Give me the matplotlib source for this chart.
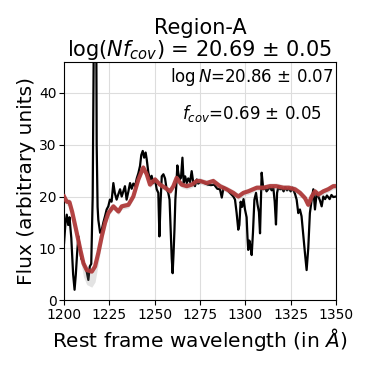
import numpy as np
import matplotlib
matplotlib.use("Agg")
import matplotlib.pyplot as plt

# observed spectrum (rest frame)
wave = [1200, 1200.8, 1201.5, 1202.3, 1203, 1204, 1205, 1205.8, 1206.5, 1207.2,
        1207.9, 1208.7, 1209.5, 1210.5, 1211.6, 1212.5, 1213.4, 1214.2, 1215.0, 1215.8,
        1216.3, 1216.5, 1217.6, 1218.0, 1218.5, 1218.9, 1219.9, 1220.8, 1221.7, 1222.6,
        1223.5, 1224.4, 1225.3, 1226.2, 1227.2, 1228, 1229, 1230, 1230.9, 1231.8,
        1232.7, 1233.6, 1234.5, 1235.5, 1236.4, 1237.3, 1238.2, 1239.2, 1240.1, 1241,
        1241.9, 1242.6, 1243.4, 1244.2, 1245, 1245.6, 1246.5, 1247.4, 1248.3, 1249.2,
        1250.2, 1251.1, 1252, 1252.6, 1253.2, 1253.9, 1254.8, 1255.7, 1256.6, 1257.5,
        1258.2, 1258.8, 1259.4, 1259.9, 1260.4, 1260.9, 1261.4, 1261.9, 1262.5, 1263,
        1263.8, 1264.5, 1265.3, 1266, 1266.8, 1267.7, 1268.5, 1269.5, 1270.4, 1271.3,
        1272.2, 1273.2, 1274, 1275.9, 1277.5, 1279.3, 1281, 1282.8, 1284.5, 1286,
        1287, 1288, 1289.5, 1291.5, 1293.4, 1294.3, 1295.2, 1296.1, 1296.7, 1297.4,
        1298.2, 1299, 1299.8, 1300.7, 1301.2, 1301.6, 1302.2, 1302.8, 1303.5, 1304.2,
        1305, 1305.9, 1306.7, 1307.5, 1308.1, 1308.5, 1309, 1309.9, 1310.8, 1311.7,
        1312.6, 1313.6, 1314.5, 1315.4, 1316.2, 1316.9, 1317.5, 1318.3, 1319.2, 1320.2,
        1321.1, 1322, 1323, 1324, 1325, 1326, 1327.4, 1328.3, 1329.2, 1330.1,
        1331, 1332, 1332.9, 1333.8, 1334.7, 1335.6, 1336.6, 1337.5, 1338.4, 1339.3,
        1340.3, 1341.2, 1342.1, 1343, 1344, 1345, 1346.5, 1347.5, 1348.5, 1350]
flux = [11, 15, 16.5, 14.5, 16, 12, 5, 2, 5, 9,
        12.3, 10, 8, 7.5, 6.5, 5.5, 3.9, 6.5, 7, 20,
        45, 70, 70, 30, 18, 15.5, 13, 13.6, 15, 16.2,
        17.5, 18.1, 19.4, 19, 22.6, 20.7, 19.4, 20.5, 21.4, 20,
        21, 22, 19.4, 21, 22.6, 21.5, 22.5, 22, 23.5, 24.5,
        25.9, 28, 28.8, 27.5, 28.5, 27.2, 24.6, 23.3, 24, 22.6,
        23.3, 21.4, 20.7, 12.3, 18.7, 23.9, 24.3, 23.5, 21.4, 20.7,
        19.4, 13.6, 8, 5.2, 9, 13.6, 19.4, 22, 26, 24.6,
        23.3, 23.6, 27.5, 22.6, 23.9, 22.6, 23.5, 22.8, 24.9, 22.6,
        22, 23.3, 22.5, 23, 22.6, 22.3, 22.2, 22.3, 21.5, 21.4,
        19.8, 21.8, 21.5, 20.7, 20, 19.4, 16.8, 13.6, 14.5, 19,
        18, 19.5, 17.5, 16, 12, 9.7, 11.5, 10.5, 8.7, 13,
        19.4, 20.7, 18.5, 17, 12.9, 18, 24.6, 21.4, 21.8, 21,
        21.4, 21.8, 21.2, 21.8, 19, 14.6, 20.7, 22, 21.4, 21.6,
        21, 21.8, 21.2, 21.6, 21, 21.7, 20.5, 19.4, 16.8, 17.5,
        16.2, 12.3, 9, 5.8, 10, 16.8, 19.4, 21.4, 17.5, 20.5,
        20, 19.2, 18.1, 20, 19.5, 20.2, 19.5, 20.3, 19.9, 20]

# best-fit model and spread of the fits
mwave = [1200, 1201.5, 1203, 1204.5, 1207, 1209, 1210.7, 1212.5, 1215.3, 1217.1,
         1218.9, 1220.8, 1222.6, 1224.4, 1227.2, 1230, 1231.8, 1235.5, 1238.2, 1241,
         1243.7, 1245.6, 1247.4, 1250.2, 1252.9, 1255.7, 1258.5, 1260.3, 1262.1, 1264.8,
         1267.7, 1270.5, 1273.2, 1275, 1278.7, 1282.3, 1286, 1289.7, 1293.4, 1296.1,
         1298.9, 1301.6, 1306.3, 1310, 1313.6, 1317, 1321, 1324, 1327.4, 1330.2,
         1332.9, 1334.7, 1336.6, 1338.4, 1340.3, 1343, 1345.7, 1348.5, 1350]
model = [20, 19, 18.9, 17, 13, 9.7, 7.1, 5.8, 5.5, 6.5,
         9.1, 12.3, 14.9, 16.8, 18.1, 17.1, 18.1, 18.4, 20, 23.3,
         25.6, 24.3, 22.3, 23.3, 22.3, 21.7, 21, 22, 23.6, 22.3,
         22, 22.3, 23, 23, 22.6, 23, 22, 21.4, 20.7, 20,
         20.7, 21, 21.7, 21.7, 22, 22, 21.7, 21.7, 21.4, 20.7,
         19.7, 18.4, 20, 21, 20.4, 21, 21.4, 22, 22]
model_lo = [19.2, 18.3, 18.2, 16.2, 12, 8, 4.5, 3, 2.5, 3.5,
            7, 11, 14, 16.2, 17.5, 16.5, 17.5, 17.8, 19.4, 22.7,
            25, 23.7, 21.7, 22.7, 21.7, 21.1, 20.4, 21.4, 23, 21.7,
            21.4, 21.7, 22.4, 22.4, 22, 22.4, 21.4, 20.8, 20.1, 19.4,
            20.1, 20.4, 21.1, 21.1, 21.4, 21.4, 21.1, 21.1, 20.8, 20.1,
            19.1, 17.8, 19.4, 20.4, 19.8, 20.4, 20.8, 21.4, 21.4]
model_hi = [21, 19.7, 19.6, 17.7, 13.6, 10.3, 7.7, 6.4, 6.1, 7.1,
            9.7, 12.9, 15.5, 17.4, 18.7, 17.7, 18.7, 19, 20.6, 23.9,
            26.2, 24.9, 22.9, 23.9, 22.9, 22.3, 21.6, 22.6, 24.2, 22.9,
            22.6, 22.9, 23.6, 23.6, 23.2, 23.6, 22.6, 22, 21.3, 20.6,
            21.3, 21.6, 22.3, 22.3, 22.6, 22.6, 22.3, 22.3, 22, 21.3,
            20.3, 19, 20.6, 21.6, 21, 21.6, 22, 22.6, 22.6]

fig = plt.figure(figsize=(3.66, 3.66), dpi=100)
ax = fig.add_axes([0.175, 0.18, 0.743, 0.651])

ax.grid(True, color="#dddddd", linewidth=0.8)
ax.set_axisbelow(True)

ax.plot(wave, flux, color="black", lw=1.6, zorder=2)
ax.fill_between(mwave, model_lo, model_hi, color="gray", alpha=0.22, lw=0, zorder=3)
ax.plot(mwave, model, color="#b03a3a", lw=3, alpha=0.95, zorder=4)

ax.set_xlim(1200, 1350)
ax.set_ylim(0, 46)
ax.set_xticks(np.arange(1200, 1351, 25))
ax.set_yticks([0, 10, 20, 30, 40])
ax.tick_params(labelsize=10, pad=2)

ax.set_xlabel(r"Rest frame wavelength (in $\AA$)", fontsize=14.5, labelpad=3)
ax.set_ylabel("Flux (arbitrary units)", fontsize=14.5, labelpad=2)
ax.set_title("Region-A\n" + r"log($Nf_{cov}$) = 20.69 ± 0.05", fontsize=15,
             linespacing=1.0, pad=4)

ax.text(0.69, 0.935, r"log$\,N$=20.86 ± 0.07", transform=ax.transAxes,
        ha="center", va="center", fontsize=12)
ax.text(0.69, 0.785, r"$f_{cov}$=0.69 ± 0.05", transform=ax.transAxes,
        ha="center", va="center", fontsize=12)

fig.savefig("out.png", dpi=100)
